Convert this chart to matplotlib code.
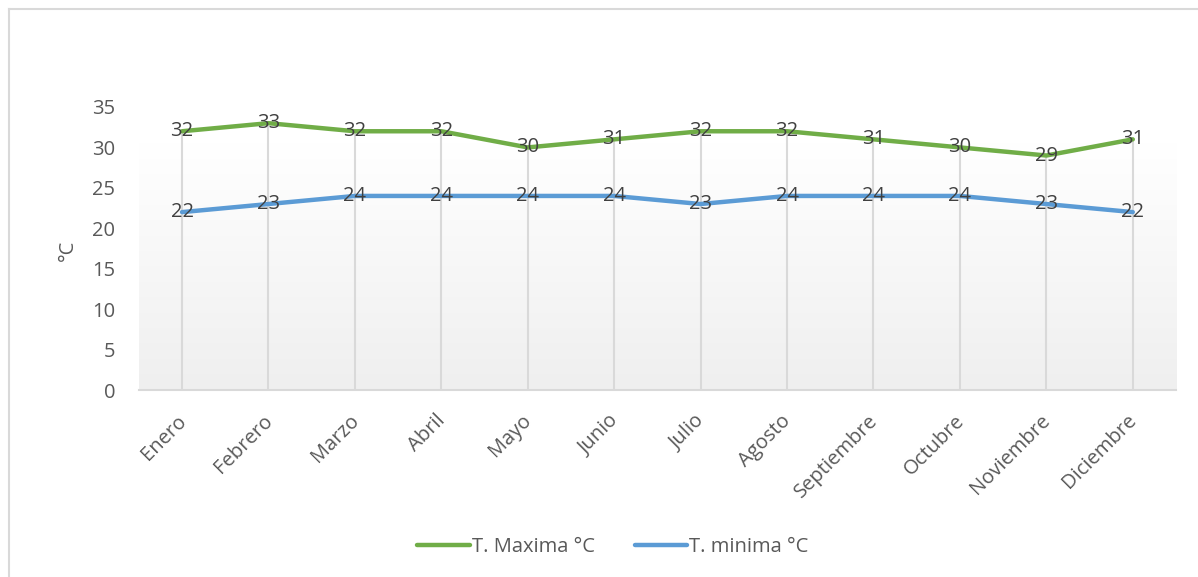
import numpy as np
import matplotlib
matplotlib.use("Agg")
import matplotlib.pyplot as plt
from matplotlib.lines import Line2D
from matplotlib.transforms import ScaledTranslation

plt.rcParams['font.family'] = ['Open Sans', 'DejaVu Sans']

meses = ["Enero", "Febrero", "Marzo", "Abril", "Mayo", "Junio", "Julio",
         "Agosto", "Septiembre", "Octubre", "Noviembre", "Diciembre"]
t_max = [32, 33, 32, 32, 30, 31, 32, 32, 31, 30, 29, 31]
t_min = [22, 23, 24, 24, 24, 24, 23, 24, 24, 24, 23, 22]

verde = "#70AD47"
azul = "#5B9BD5"
texto = "#595959"
gris = "#D9D9D9"
fs = 14.5

W, H = 1198, 577
fig = plt.figure(figsize=(W / 100, H / 100), dpi=100)
ax = fig.add_axes([138.8 / W, (H - 390) / H, (1176 - 138.8) / W, 283 / H])

x = np.arange(len(meses))
ax.set_xlim(-0.5, len(meses) - 0.5)
ax.set_ylim(0, 35)

# plot area fill: white on top fading to light grey at the bottom
grad = np.linspace(1.0, 0.0, 256).reshape(-1, 1)
cmap = matplotlib.colors.LinearSegmentedColormap.from_list("fondo", ["#EFEFEF", "#FFFFFF"])
ax.imshow(grad, aspect="auto", cmap=cmap, extent=(-0.5, len(meses) - 0.5, 0, 30.5),
          origin="upper", zorder=0, vmin=0, vmax=1)

# drop lines from the axis to the highest point
ax.vlines(x, 0, np.maximum(t_max, t_min), color=gris, lw=1.5, zorder=1)

ax.plot(x, t_max, color=verde, lw=3.2, solid_capstyle="round", zorder=3)
ax.plot(x, t_min, color=azul, lw=3.2, solid_capstyle="round", zorder=3)

for xi, v in zip(x, t_max):
    ax.text(xi, v, str(v), ha="center", va="center", fontsize=fs, color="#404040", zorder=4)
for xi, v in zip(x, t_min):
    ax.text(xi, v, str(v), ha="center", va="center", fontsize=fs, color="#404040", zorder=4)

for s in ["top", "right", "left"]:
    ax.spines[s].set_visible(False)
ax.spines["bottom"].set_color(gris)
ax.spines["bottom"].set_linewidth(1.5)

ax.set_yticks(range(0, 36, 5))
ax.tick_params(axis="y", length=0, pad=17, labelsize=fs, labelcolor=texto)
ax.set_xticks(x)
ax.set_xticklabels(meses, rotation=45, ha="right", rotation_mode="anchor")
ax.tick_params(axis="x", length=0, pad=15, labelsize=fs, labelcolor=texto)
shift = ScaledTranslation(-0.06, 0, fig.dpi_scale_trans)
for lbl in ax.get_xticklabels():
    lbl.set_transform(lbl.get_transform() + shift)

fig.text(68 / W, 1 - 250 / H, "°C", rotation=90, ha="center", va="center",
         fontsize=fs, color=texto)

handles = [Line2D([], [], color=verde, lw=3.2, solid_capstyle="round"),
           Line2D([], [], color=azul, lw=3.2, solid_capstyle="round")]
fig.legend(handles, ["T. Maxima °C", "T. minima °C"], loc="center",
           bbox_to_anchor=(613 / W, 1 - 547 / H), ncol=2, frameon=False,
           fontsize=fs, labelcolor=texto, handlelength=2.6, handletextpad=0.1,
           columnspacing=2.0)

# chart border (top and left edges)
fig.add_artist(Line2D([9 / W, 9 / W], [0, 1 - 9 / H], color=gris, lw=1.5))
fig.add_artist(Line2D([9 / W, 1], [1 - 9 / H, 1 - 9 / H], color=gris, lw=1.5))

fig.savefig("out.png", dpi=100)
